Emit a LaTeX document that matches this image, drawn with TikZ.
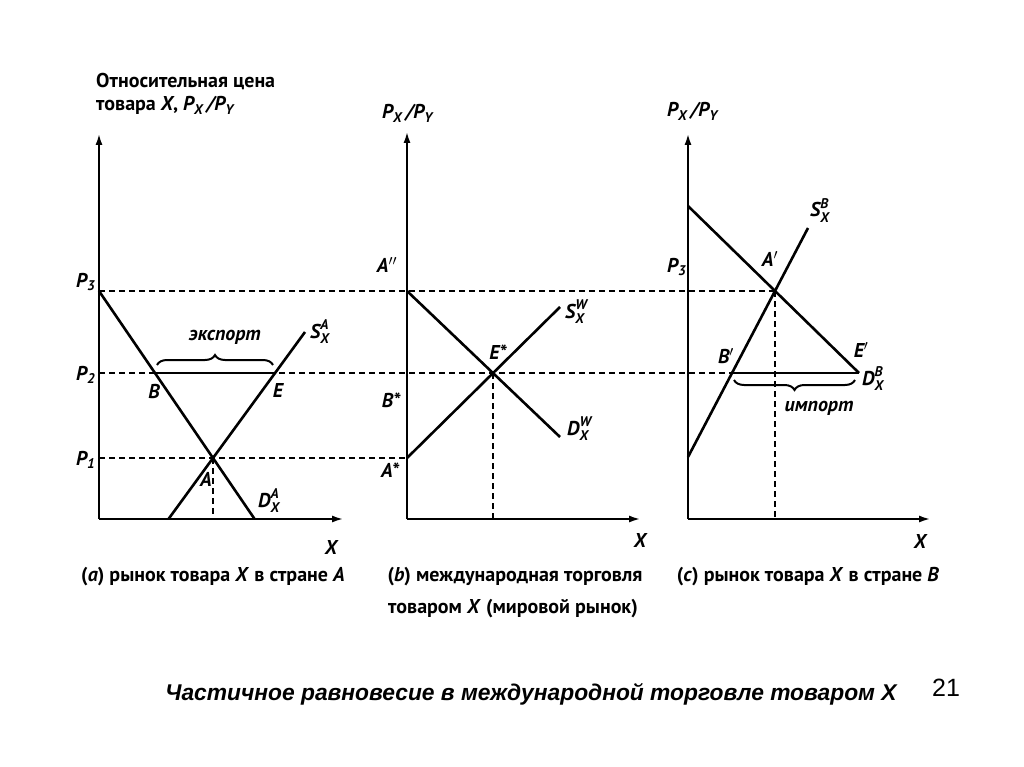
\documentclass[tikz,border=0pt]{standalone}
\usepackage{fontspec}
\usepackage{amsmath}
\usepackage{graphicx}
\usetikzlibrary{arrows.meta,decorations.pathreplacing}
\setmainfont{Liberation Sans}
\newfontfamily\figfont{PT Sans}
\newcommand\sxlab[3]{$\text{#1}_{\text{#2}}^{\text{#3}}$}
\newcommand\psub[2]{$\text{#1}_{\text{#2}}$}
\begin{document}
\begin{tikzpicture}[x=1pt,y=-1pt,
  curve/.style={line width=2.6pt},
  axis/.style={line width=2.6pt,-{Latex[length=12pt,width=7pt]}},
  dsh/.style={line width=1.8pt,dash pattern=on 6pt off 4pt},
  brc/.style={line width=2pt,decorate,decoration={brace,amplitude=10pt}},
  lbl/.style={font=\figfont\bfseries\itshape\fontsize{20}{22}\selectfont,inner sep=0pt},
  captext/.style={font=\figfont\bfseries\fontsize{20}{22}\selectfont,inner sep=0pt,align=center}]
\useasboundingbox[fill=white] (0,0) rectangle (1024,767);
% ---- panel a points
\coordinate (Oa) at (99,519);
\coordinate (Ya) at (99,133);
\coordinate (Xa) at (344,519);
\coordinate (P3a) at (99,291);
\coordinate (P2a) at (99,373);
\coordinate (P1a) at (99,458);
\coordinate (A) at (213,458);
\coordinate (Ab) at (213,519);
\coordinate (B) at (155,373);
\coordinate (E) at (275,373);
\coordinate (Dae) at (254.6,519);
\coordinate (Sas) at (168.5,519);
\coordinate (Sae) at (305,332);
% ---- panel b points
\coordinate (Ob) at (407,519);
\coordinate (Yb) at (407,131);
\coordinate (Xb) at (641,519);
\coordinate (Dbs) at (407,291);
\coordinate (Es) at (493,373);
\coordinate (Esb) at (493,519);
\coordinate (Dbe) at (560,437);
\coordinate (Sbs) at (407,458);
\coordinate (Sbe) at (560,307);
% ---- panel c points
\coordinate (Oc) at (688,519);
\coordinate (Yc) at (688,133);
\coordinate (Xc) at (931,519);
\coordinate (Dcs) at (688,206);
\coordinate (Ap) at (775,291);
\coordinate (Apb) at (775,519);
\coordinate (Ep) at (859,373);
\coordinate (Bp) at (732,373);
\coordinate (Scs) at (688,457);
\coordinate (Sce) at (808,228);
% ---- dashed guides
\draw[dsh] (P3a) -- (Ap);
\draw[dsh] (P2a) -- (Bp);
\draw[dsh] (P1a) -- (Sbs);
\draw[dsh] (A) -- (Ab);
\draw[dsh] (Es) -- (Esb);
\draw[dsh] (Ap) -- (Apb);
% ---- axes
\draw[axis] (Oa) -- (Ya);
\draw[axis] (Oa) -- (Xa);
\draw[axis] (Ob) -- (Yb);
\draw[axis] (Ob) -- (Xb);
\draw[axis] (Oc) -- (Yc);
\draw[axis] (Oc) -- (Xc);
% ---- curves
\draw[curve] (P3a) -- (Dae);
\draw[curve] (Sas) -- (Sae);
\draw[curve] (B) -- (E);
\draw[curve] (Dbs) -- (Dbe);
\draw[curve] (Sbs) -- (Sbe);
\draw[curve] (Dcs) -- (Ep);
\draw[curve] (Scs) -- (Sce);
\draw[curve] (Bp) -- (Ep);
% ---- braces
\draw[brc] (157,365) -- (273,365);
\draw[brc] (855,380) -- (734,380);
% ---- labels panel a
\node[captext,anchor=base west] (t1) at (96,88) {Относительная цена};
\node[captext,anchor=base west] (t2) at (96,111) {товара \textit{X}, \textit{\psub{P}{X}\,/\psub{P}{Y}}};
\node[lbl,anchor=base west] (lP3a) at (76,287) {\psub{P}{3}};
\node[lbl,anchor=base west] (lP2a) at (76,380) {\psub{P}{2}};
\node[lbl,anchor=base west] (lP1a) at (76,465) {\psub{P}{1}};
\node[lbl] (lB) at (154,391) {B};
\node[lbl] (lE) at (278,390) {E};
\node[lbl] (lA) at (206,479) {A};
\node[lbl,anchor=base west] (lDa) at (258,507) {\sxlab{D}{X}{A}};
\node[lbl,anchor=base west] (lSa) at (310,338) {\sxlab{S}{X}{A}};
\node[lbl] (lexp) at (225,337) {экспорт};
\node[lbl] (lXa) at (331,547) {X};
% ---- labels panel b
\node[lbl,anchor=base west] (tb) at (382,119) {\psub{P}{X}\,/\psub{P}{Y}};
\node[lbl] (lA2) at (387,265) {A$''$};
\node[lbl] (lEs) at (498,352) {E*};
\node[lbl] (lBs) at (391,400) {B*};
\node[lbl] (lAs) at (390,470) {A*};
\node[lbl,anchor=base west] (lSb) at (565,318) {\sxlab{S}{X}{W}};
\node[lbl,anchor=base west] (lDb) at (567,435) {\sxlab{D}{X}{W}};
\node[lbl] (lXb) at (640,540) {X};
% ---- labels panel c
\node[lbl,anchor=base west] (tc) at (667,117) {\psub{P}{X}\,/\psub{P}{Y}};
\node[lbl,anchor=base west] (lP3c) at (667,272) {\psub{P}{3}};
\node[lbl,anchor=base west] (lSc) at (810,217) {\sxlab{S}{X}{B}};
\node[lbl] (lAp) at (770,259) {A$'$};
\node[lbl] (lBp) at (726,356) {B$'$};
\node[lbl] (lEp) at (861,350) {E$'$};
\node[lbl,anchor=base west] (lDc) at (862,385) {\sxlab{D}{X}{B}};
\node[lbl] (limp) at (819,408) {импорт};
\node[lbl] (lXc) at (920,541) {X};
% ---- captions
\node[captext] (ca) at (213,577) {(\textit{a}) рынок товара \textit{X} в стране \textit{A}};
\node[captext] (cb) at (515,577) {(\textit{b}) международная торговля};
\node[captext] (cb2) at (513,609) {товаром \textit{X} (мировой рынок)};
\node[captext] (cc) at (808,577) {(\textit{c}) рынок товара \textit{X} в стране \textit{B}};
\node[inner sep=0pt,font=\bfseries\itshape\fontsize{22.8}{24}\selectfont] (title) at (531,694) {Частичное равновесие в международной торговле товаром X};
\node[inner sep=0pt,font=\fontsize{25}{26}\selectfont] (num) at (946,688) {21};
\end{tikzpicture}
\end{document}
